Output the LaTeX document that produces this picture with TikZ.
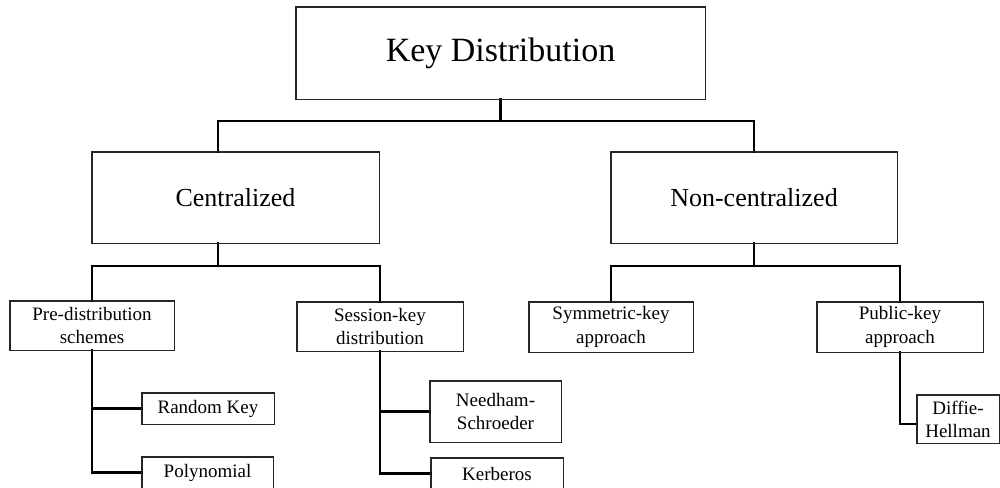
\documentclass[tikz,border=0pt]{standalone}
\usepackage{fontspec}
\setmainfont{Liberation Serif}
\usetikzlibrary{calc}

\tikzset{
  box/.style={draw=black!85, line width=0.5pt, fill=white, inner sep=1pt,
              align=center, text=black},
  bigbox/.style={box, font=\fontsize{17}{20}\selectfont},
  midbox/.style={box, font=\fontsize{13}{15.5}\selectfont},
  smallbox/.style={box, font=\fontsize{9.5}{11.6}\selectfont},
  link/.style={draw=black, line width=1.1pt, line cap=rect},
}

\begin{document}
\begin{tikzpicture}[x=0.5pt, y=-0.5pt]
  \useasboundingbox (0,0) rectangle (1000,487);
  \clip (0,0) rectangle (1000,487);

  % root
  \node[bigbox, minimum width=204.5pt, minimum height=46pt] (key) at (500.5,53) {Key Distribution};

  % second level
  \node[midbox, minimum width=143.5pt, minimum height=45.5pt] (cen) at (235.5,197.5) {Centralized};
  \node[midbox, minimum width=143pt, minimum height=45.5pt] (non) at (754,197.5) {Non-centralized};

  % third level
  \node[smallbox, minimum width=82pt, minimum height=24.5pt] (pre) at (92,325.5) {Pre-distribution\\schemes};
  \node[smallbox, minimum width=83pt, minimum height=24.5pt] (ses) at (380,326.5) {Session-key\\distribution};
  \node[smallbox, minimum width=82pt, minimum height=25pt] (sym) at (611,327) {Symmetric-key\\approach};
  \node[smallbox, minimum width=83pt, minimum height=25pt] (pub) at (900,327) {Public-key\\approach};

  % leaves
  \node[smallbox, minimum width=66pt, minimum height=15.5pt] (rnd) at (208,408.5) {Random Key};
  \node[smallbox, minimum width=65.5pt, minimum height=15.5pt] (pol) at (207.5,472.5) {Polynomial};
  \node[smallbox, minimum width=65.5pt, minimum height=30.5pt] (nee) at (495.5,411.5) {Needham-\\Schroeder};
  \node[smallbox, minimum width=66pt, minimum height=15.5pt] (ker) at (497,473.5) {Kerberos};
  \node[smallbox, minimum width=41pt, minimum height=24pt] (dif) at (958,419) {Diffie-\\Hellman};

  % junction points of the buses
  \coordinate (b1) at (218,121);
  \coordinate (b2) at (754,121);
  \coordinate (c1) at (218,266);
  \coordinate (c2) at (754,266);
  \coordinate (dj) at (917,424);

  % root to second level
  \draw[link] (key.south) -- (key.south |- b1);
  \draw[link] (b1) -- (b2);
  \draw[link] (b1) -- (b1 |- cen.north);
  \draw[link] (b2) -- (non.north);

  % Centralized branch
  \draw[link] (c1 |- cen.south) -- (c1);
  \draw[link] (pre.north |- c1) -- (ses.north |- c1);
  \draw[link] (pre.north |- c1) -- (pre.north);
  \draw[link] (ses.north |- c1) -- (ses.north);

  % Non-centralized branch
  \draw[link] (non.south) -- (c2);
  \draw[link] (sym.north |- c2) -- (pub.north |- c2);
  \draw[link] (sym.north |- c2) -- (sym.north);
  \draw[link] (pub.north |- c2) -- (pub.north);

  % leaves
  \draw[link] (pre.south) |- (pol.west);
  \draw[link] (pre.south |- rnd.west) -- (rnd.west);
  \draw[link] (ses.south) |- (ker.west);
  \draw[link] (ses.south |- nee.west) -- (nee.west);
  \draw[link] (pub.south) |- (dj);
  \draw[link] (dj) -- (dif.west |- dj);

  % redraw box outlines over the line ends
  \foreach \n in {key,cen,non,pre,ses,sym,pub,rnd,pol,nee,ker,dif}
    \draw[draw=black!85, line width=0.5pt] (\n.south west) rectangle (\n.north east);
\end{tikzpicture}
\end{document}
